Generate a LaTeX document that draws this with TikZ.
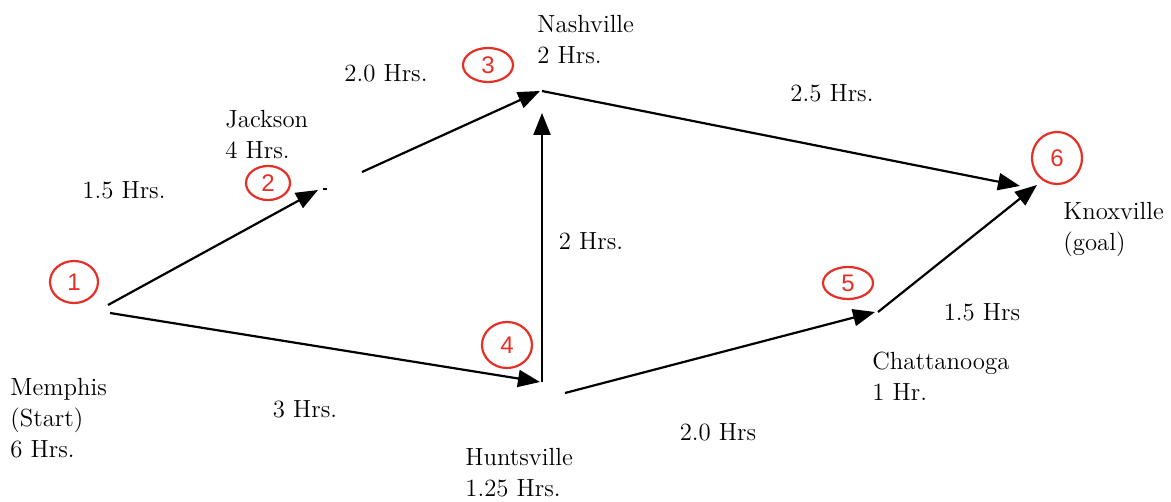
\documentclass[tikz,border=0pt]{standalone}
\usepackage{fontspec}
\newfontfamily\digitfont{Liberation Sans}
\usetikzlibrary{arrows.meta,shapes.geometric}
\definecolor{handred}{RGB}{228,48,38}
\begin{document}
\begin{tikzpicture}[x=0.5pt,y=-0.5pt,
  edge/.style={line width=1.1pt,-{Triangle[length=11pt,width=8.5pt]}},
  plain/.style={line width=1.1pt},
  lbl/.style={font=\rmfamily\fontsize{12.4}{15.5}\selectfont, inner sep=0pt},
  city/.style={lbl, align=left, anchor=north west},
  circnum/.style={ellipse, draw=handred, line width=1.1pt, text=handred,
    font=\digitfont\fontsize{12}{12}\selectfont, inner sep=0pt}]
\useasboundingbox (0,0) rectangle (1171,502);

% connector end points
\coordinate (memA) at (108,305);
\coordinate (memB) at (110,313);
\coordinate (jacIn) at (318,190);
\coordinate (jacOut) at (362,172);
\coordinate (nasIn) at (540,91);
\coordinate (nasOut) at (542,91);
\coordinate (nasLow) at (542,113);
\coordinate (hunIn) at (540,382);
\coordinate (hunTop) at (542,382);
\coordinate (hunOut) at (565,393);
\coordinate (chaIn) at (875,312);
\coordinate (chaOut) at (878,312);
\coordinate (knoA) at (1020,186);
\coordinate (knoB) at (1037,185);
\coordinate (dashA) at (323,189);
\coordinate (dashB) at (327,189);

% connectors
\draw[edge] (memA) -- (jacIn);
\draw[plain] (dashA) -- (dashB);
\draw[edge] (jacOut) -- (nasIn);
\draw[edge] (nasOut) -- (knoA);
\draw[edge] (memB) -- (hunIn);
\draw[edge] (hunTop) -- (nasLow);
\draw[edge] (hunOut) -- (chaIn);
\draw[edge] (chaOut) -- (knoB);

% city labels
\node[city] (memphis) at (10,378) {Memphis\\(Start)\\6 Hrs.};
\node[city] (jackson) at (225,110) {Jackson\\4 Hrs.};
\node[city] (nashville) at (537,15) {Nashville\\2 Hrs.};
\node[city] (huntsville) at (465,448) {Huntsville\\1.25 Hrs.};
\node[city] (chattanooga) at (872,352) {Chattanooga\\1 Hr.};
\node[city] (knoxville) at (1063,202) {Knoxville\\(goal)};

% edge labels
\node[lbl] (l12) at (124,190) {1.5 Hrs.};
\node[lbl] (l23) at (386,73) {2.0 Hrs.};
\node[lbl] (l36) at (832,93) {2.5 Hrs.};
\node[lbl] (l43) at (591,241) {2 Hrs.};
\node[lbl] (l14) at (305,409) {3 Hrs.};
\node[lbl] (l45) at (718,432) {2.0 Hrs};
\node[lbl] (l56) at (982,312) {1.5 Hrs};

% red circled numbers
\node[circnum, minimum width=24pt, minimum height=21pt] (c1) at (74,282) {1};
\node[circnum, minimum width=22pt, minimum height=17pt] (c2) at (268,183) {2};
\node[circnum, minimum width=25pt, minimum height=17pt] (c3) at (488,65) {3};
\node[circnum, minimum width=25pt, minimum height=23pt] (c4) at (507,345) {4};
\node[circnum, minimum width=25pt, minimum height=16pt] (c5) at (848,283) {5};
\node[circnum, minimum width=25pt, minimum height=26pt] (c6) at (1057,158) {6};
\end{tikzpicture}
\end{document}
